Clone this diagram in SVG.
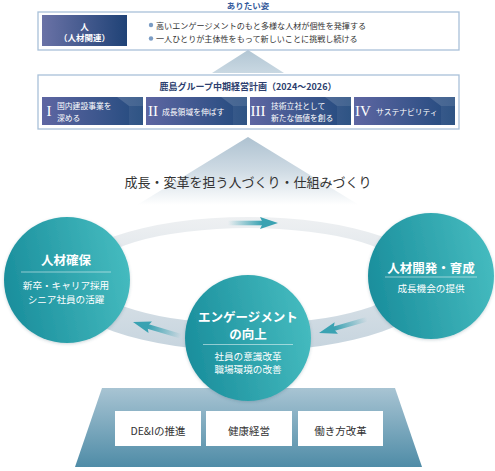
<svg xmlns="http://www.w3.org/2000/svg" width="495" height="471" viewBox="0 0 495 471">
<defs>
<style>
text{font-family:"Noto Sans CJK JP","Noto Sans",sans-serif;dominant-baseline:central}
.w{fill:#fff}
.d{fill:#333}
.c{text-anchor:middle}
.h{font-size:12.5px;font-weight:bold;fill:#fff;text-anchor:middle}
.s{font-size:9.6px;fill:#fff;text-anchor:middle}
.rn{font-family:"Liberation Serif",serif;font-size:15px;fill:#fff;text-anchor:middle}
.sb{font-size:7.8px;fill:#fff}
.div{stroke:#fff;stroke-opacity:.5;stroke-width:1}
.frame{fill:#fff;stroke:#a9c1d9;stroke-width:1.3}
.circ{fill:url(#gc);filter:url(#sh)}
.base{fill:#fff}
</style>
<linearGradient id="gc" x1="0" y1="0.6" x2="1" y2="0.4">
<stop offset="0" stop-color="#1a8e9c"/><stop offset="1" stop-color="#45bbbf"/>
</linearGradient>
<linearGradient id="gnavy" x1="0" y1="0" x2="1" y2="0">
<stop offset="0" stop-color="#6a72a6"/><stop offset="1" stop-color="#1f4276"/>
</linearGradient>
<linearGradient id="gsub" x1="0" y1="0" x2="1" y2="0">
<stop offset="0" stop-color="#5e66a2"/><stop offset="1" stop-color="#224a7d"/>
</linearGradient>
<linearGradient id="gtri1" x1="0" y1="0" x2="0" y2="1">
<stop offset="0" stop-color="#b2c6d4"/><stop offset="1" stop-color="#c9d8e2"/>
</linearGradient>
<linearGradient id="gtri2" x1="0" y1="0" x2="0" y2="1">
<stop offset="0" stop-color="#aec2d1"/><stop offset="0.5" stop-color="#cfdbe4"/><stop offset="1" stop-color="#ffffff"/>
</linearGradient>
<linearGradient id="gring" gradientUnits="userSpaceOnUse" x1="0" y1="217" x2="0" y2="351">
<stop offset="0" stop-color="#eef0f2"/><stop offset="1" stop-color="#c6d4de"/>
</linearGradient>
<linearGradient id="gbase" x1="0" y1="0" x2="0" y2="1">
<stop offset="0" stop-color="#a8c4d3"/><stop offset="1" stop-color="#4f8ca7"/>
</linearGradient>
<linearGradient id="garr" gradientUnits="userSpaceOnUse" x1="-50" y1="0" x2="-16" y2="0">
<stop offset="0" stop-color="#3aa2b2" stop-opacity="0"/><stop offset="1" stop-color="#3aa2b2"/>
</linearGradient>
<filter id="sh" x="-20%" y="-20%" width="140%" height="140%">
<feDropShadow dx="0" dy="1" stdDeviation="1.5" flood-color="#2b5566" flood-opacity="0.25"/>
</filter>
<g id="arrow">
<rect x="-50" y="-2.3" width="36" height="4.6" fill="url(#garr)"/>
<polygon points="0,0 -18,-6 -15,0 -18,6" fill="#3aa2b2"/>
</g>
</defs>

<g id="triangles">
<polygon points="248,50 212,73 284,73" fill="url(#gtri1)"/>
<polygon points="248,137 137,205 359,205" fill="url(#gtri2)"/>
</g>

<g id="vision">
<text x="248" y="5" class="c" style="font-size:8.5px;font-weight:bold;fill:#355b9b">ありたい姿</text>
<rect x="38" y="12" width="421" height="38" class="frame"/>
<rect x="42" y="15" width="85" height="31" fill="url(#gnavy)"/>
<text x="84.5" y="25.5" class="w c" style="font-size:8.5px;font-weight:bold">人</text>
<text x="84.5" y="36.5" class="w c" style="font-size:8.5px;font-weight:bold">（人材関連）</text>
<circle cx="151" cy="25" r="2.2" fill="#7b9cc4"/>
<circle cx="151" cy="38.5" r="2.2" fill="#7b9cc4"/>
<text x="156" y="25" class="d" style="font-size:8.1px">高いエンゲージメントのもと多様な人材が個性を発揮する</text>
<text x="156" y="38.5" class="d" style="font-size:8.1px">一人ひとりが主体性をもって新しいことに挑戦し続ける</text>
</g>

<g id="plan">
<rect x="38" y="75" width="421" height="54" class="frame"/>
<text x="248" y="86" class="c" style="font-size:9px;font-weight:bold;fill:#2c3e6e">鹿島グループ中期経営計画（2024～2026）</text>
<g id="plan1">
<rect x="42" y="97" width="101" height="28" fill="url(#gsub)"/>
<polygon points="117,97 143,97 143,106 129,106" fill="#fff" opacity="0.15"/>
<rect x="129" y="106" width="14" height="19" fill="#fff" opacity="0.06"/>
<text x="49" y="111" class="rn">I</text>
<text x="57" y="105" class="sb">国内建設事業を</text>
<text x="57" y="117" class="sb">深める</text>
</g>
<g id="plan2">
<rect x="146" y="97" width="101" height="28" fill="url(#gsub)"/>
<polygon points="221,97 247,97 247,106 233,106" fill="#fff" opacity="0.15"/>
<rect x="233" y="106" width="14" height="19" fill="#fff" opacity="0.06"/>
<text x="153" y="111" class="rn">II</text>
<text x="162" y="111" class="sb">成長領域を伸ばす</text>
</g>
<g id="plan3">
<rect x="250" y="97" width="101" height="28" fill="url(#gsub)"/>
<polygon points="325,97 351,97 351,106 337,106" fill="#fff" opacity="0.15"/>
<rect x="337" y="106" width="14" height="19" fill="#fff" opacity="0.06"/>
<text x="258" y="111" class="rn">III</text>
<text x="271" y="105" class="sb">技術立社として</text>
<text x="271" y="117" class="sb">新たな価値を創る</text>
</g>
<g id="plan4">
<rect x="354" y="97" width="101" height="28" fill="url(#gsub)"/>
<polygon points="429,97 455,97 455,106 441,106" fill="#fff" opacity="0.15"/>
<rect x="441" y="106" width="14" height="19" fill="#fff" opacity="0.06"/>
<text x="363" y="111" class="rn">IV</text>
<text x="376" y="111" class="sb">サステナビリティ</text>
</g>
</g>

<text id="title" x="248" y="181" class="d c" style="font-size:13px">成長・変革を担う人づくり・仕組みづくり</text>

<g id="connectors">
<path d="M58,284 A190,67 0 1,0 438,284 A190,67 0 1,0 58,284 Z M88,276 A160,48 0 1,1 408,276 A160,48 0 1,1 88,276 Z" fill="url(#gring)" fill-rule="evenodd"/>
<use href="#arrow" transform="translate(278,223)"/>
<use href="#arrow" transform="translate(133,322) rotate(196.6)"/>
<use href="#arrow" transform="translate(319,333) rotate(164)"/>
</g>

<g id="base">
<polygon points="102,388 395,388 422,467 75,467" fill="url(#gbase)"/>
<g id="dei">
<rect x="115" y="411" width="86" height="35" class="base"/>
<text x="158" y="430" class="d c" style="font-size:10.5px">DE&amp;Iの推進</text>
</g>
<g id="health">
<rect x="206" y="411" width="86" height="35" class="base"/>
<text x="249" y="430" class="d c" style="font-size:10.5px">健康経営</text>
</g>
<g id="workstyle">
<rect x="298" y="411" width="85" height="35" class="base"/>
<text x="340.5" y="430" class="d c" style="font-size:10.5px">働き方改革</text>
</g>
</g>

<g id="acquire">
<circle cx="67" cy="280" r="63" class="circ"/>
<text x="66" y="259.5" class="h">人材確保</text>
<line x1="21" y1="272" x2="111" y2="272" class="div"/>
<text x="66" y="285" class="s">新卒・キャリア採用</text>
<text x="66" y="298.5" class="s">シニア社員の活躍</text>
</g>

<g id="develop">
<circle cx="431" cy="276" r="63" class="circ"/>
<text x="431" y="267" class="h">人材開発・育成</text>
<line x1="385" y1="277" x2="477" y2="277" class="div"/>
<text x="431" y="288" class="s">成長機会の提供</text>
</g>

<g id="engage">
<circle cx="248" cy="338" r="63" class="circ"/>
<text x="248" y="316.5" class="h">エンゲージメント</text>
<text x="248" y="333" class="h">の向上</text>
<line x1="203" y1="344.5" x2="293" y2="344.5" class="div"/>
<text x="248" y="356" class="s">社員の意識改革</text>
<text x="248" y="369" class="s">職場環境の改善</text>
</g>
</svg>
